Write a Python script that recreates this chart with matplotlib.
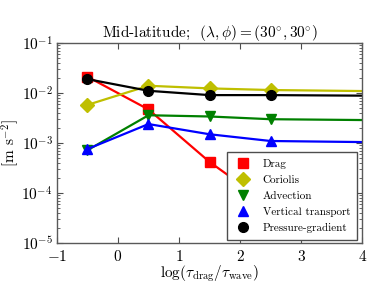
import matplotlib
matplotlib.use("Agg")
import matplotlib.pyplot as plt
import numpy as np
from matplotlib.lines import Line2D

plt.rcParams['mathtext.fontset'] = 'cm'
plt.rcParams['font.family'] = 'serif'
plt.rcParams['font.serif'] = ['cmr10', 'DejaVu Serif']
plt.rcParams['axes.formatter.use_mathtext'] = True

x = [-0.5, 0.5, 1.5, 2.5, 4.5]
drag = [0.0212, 0.0047, 4.2e-4, 5.6e-5, np.nan]
coriolis = [0.0058, 0.014, 0.0124, 0.0115, 0.0108]
advection = [7.2e-4, 3.6e-3, 3.4e-3, 3.0e-3, 2.85e-3]
vertical = [7.6e-4, 2.4e-3, 1.5e-3, 1.1e-3, 1.03e-3]
pressure = [0.019, 0.0111, 0.0091, 0.0091, 0.0088]

labels = ['Drag', 'Coriolis', 'Advection', 'Vertical transport', 'Pressure-gradient']
series = [drag, coriolis, advection, vertical, pressure]
colors = ['#ff0000', '#bfbf00', '#008000', '#0000ff', '#000000']
markers = ['s', 'D', 'v', '^', 'o']
msizes = [6.5, 7, 7, 7, 7]

fig = plt.figure(figsize=(3.82, 2.87), dpi=100)
ax = fig.add_axes([0.149, 0.153, 0.799, 0.697])

handles = []
for vals, c, m, ms, lab in zip(series, colors, markers, msizes, labels):
    ax.plot(x, vals, color=c, lw=1.6, marker=m, ms=ms, mec=c, mfc=c)
    handles.append(Line2D([], [], ls='none', marker=m, color=c, ms=ms, label=lab))

ax.set_yscale('log')
ax.set_xlim(-1, 4)
ax.set_ylim(1e-5, 1e-1)
ax.set_xticks([-1, 0, 1, 2, 3, 4])
ax.tick_params(which='both', direction='in', top=True, right=True, labelsize=11, color='0.3')
ax.tick_params(which='major', length=4, pad=3)
ax.tick_params(axis='x', which='major', pad=4)
ax.tick_params(which='minor', length=2)
for s in ax.spines.values():
    s.set_color('0.35')
    s.set_linewidth(1.0)

ax.set_title(r'Mid-latitude;  $(\lambda,\phi)=(30^{\circ},30^{\circ})$', fontsize=11, pad=2)
ax.set_ylabel(r'[m s$^{-2}$]', fontsize=11, labelpad=0)
ax.set_xlabel(r'$\log(\tau_{\rm drag}/\tau_{\rm wave})$', fontsize=11, labelpad=0)

leg = ax.legend(handles=handles, loc='lower right', fontsize=8, numpoints=1,
                fancybox=False, framealpha=1, edgecolor='0.3',
                handletextpad=1.0, labelspacing=0.55, borderpad=0.62,
                handlelength=1.6, borderaxespad=0, bbox_to_anchor=(0.984, 0.016))
leg.get_frame().set_linewidth(1.0)

fig.savefig('out.png', dpi=100)
